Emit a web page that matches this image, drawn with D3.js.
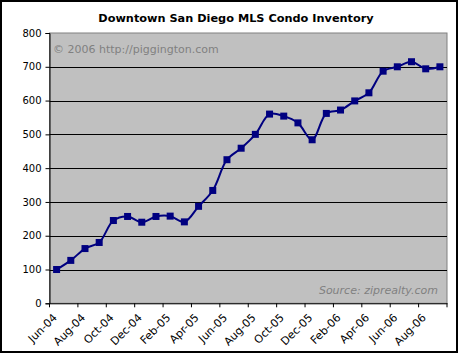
<!DOCTYPE html>
<html><head><meta charset="utf-8">
<script src="https://cdn.jsdelivr.net/npm/d3@7"></script>
<style>
html,body{margin:0;padding:0;background:#fff;}
svg text{font-family:"DejaVu Sans",Verdana,sans-serif;}
</style></head>
<body><svg id="c" width="459" height="355"></svg>
<script>
const months = ["Jun-04","Jul-04","Aug-04","Sep-04","Oct-04","Nov-04","Dec-04","Jan-05","Feb-05","Mar-05","Apr-05","May-05","Jun-05","Jul-05","Aug-05","Sep-05","Oct-05","Nov-05","Dec-05","Jan-06","Feb-06","Mar-06","Apr-06","May-06","Jun-06","Jul-06","Aug-06","Sep-06"];
const inventory = [100,127,162,180,245,257,240,257,258,241,287,334,425,459,500,560,554,534,484,562,572,599,623,687,700,715,694,700];
const yTicks = [0,100,200,300,400,500,600,700,800];
const titleText = "Downtown San Diego MLS Condo Inventory";
const watermark = "\u00a9 2006 http://piggington.com";
const sourceText = "Source: ziprealty.com";

const svg = d3.select("#c");
const L = 49.5, R = 447, T = 33, B = 303.3;

svg.append("rect").attr("x",1).attr("y",1).attr("width",456).attr("height",351)
  .attr("fill","#fff").attr("stroke","#000").attr("stroke-width",2);

svg.append("text").attr("x",236).attr("y",22).attr("text-anchor","middle")
  .attr("font-weight","bold").attr("font-size","11.3px").attr("fill","#000").text(titleText);

const x = d3.scaleBand().domain(months).range([L, R]).padding(0);
const y = d3.scaleLinear().domain([0,800]).range([B, T]);

svg.append("rect").attr("x",L).attr("y",T).attr("width",R-L).attr("height",B-T)
  .attr("fill","#c0c0c0").attr("stroke","#808080").attr("stroke-width",1);

// gridlines
svg.append("g").selectAll("line").data(yTicks.filter(d=>d>0 && d<800)).join("line")
  .attr("x1",L).attr("x2",R).attr("y1",d=>Math.round(y(d))+0.5).attr("y2",d=>Math.round(y(d))+0.5)
  .attr("stroke","#000").attr("stroke-width",1);

// y axis
const yAxis = d3.axisLeft(y).tickValues(yTicks).tickSize(4).tickPadding(4);
const gy = svg.append("g").attr("transform",`translate(${L},0)`).call(yAxis);
gy.select(".domain").attr("stroke","#000");
gy.selectAll("text").attr("font-size","10px").attr("fill","#000").attr("font-family","DejaVu Sans");

// x axis
const xAxis = d3.axisBottom(x).tickValues(months.filter((d,i)=>i%2===0)).tickSize(0).tickFormat(d=>d);
const gx = svg.append("g").attr("transform",`translate(0,${B})`).call(xAxis);
gx.select(".domain").attr("stroke","#000");
gx.selectAll(".tick line").remove();
gx.selectAll("text").attr("font-size","11px").attr("fill","#000").attr("font-family","DejaVu Sans")
  .attr("text-anchor","end").attr("dy",0).attr("y",0)
  .attr("transform","translate(1,15) rotate(-45)");
// tick marks between category pairs
const tickPos = months.filter((d,i)=>i%2===0).map(d=>x(d)).concat([R]);
svg.append("g").selectAll("line").data(tickPos).join("line")
  .attr("x1",d=>d).attr("x2",d=>d).attr("y1",B).attr("y2",B+4).attr("stroke","#000");

// watermark & source
svg.append("text").attr("x",53).attr("y",53).attr("font-size","11px").attr("fill","#808080").text(watermark);
svg.append("text").attr("x",438).attr("y",294).attr("text-anchor","end").attr("font-size","11px")
  .attr("font-style","italic").attr("fill","#808080").text(sourceText);

// line
const cx = d => x(d) + x.bandwidth()/2;
const line = d3.line().x((d,i)=>cx(months[i])).y(d=>y(d)).curve(d3.curveCatmullRom.alpha(0.5));
svg.append("path").datum(inventory).attr("d",line).attr("fill","none")
  .attr("stroke","#000080").attr("stroke-width",2);
svg.append("g").selectAll("rect").data(inventory).join("rect")
  .attr("x",(d,i)=>cx(months[i])-3.5).attr("y",d=>y(d)-3.5).attr("width",7).attr("height",7)
  .attr("fill","#000080");
</script></body></html>
